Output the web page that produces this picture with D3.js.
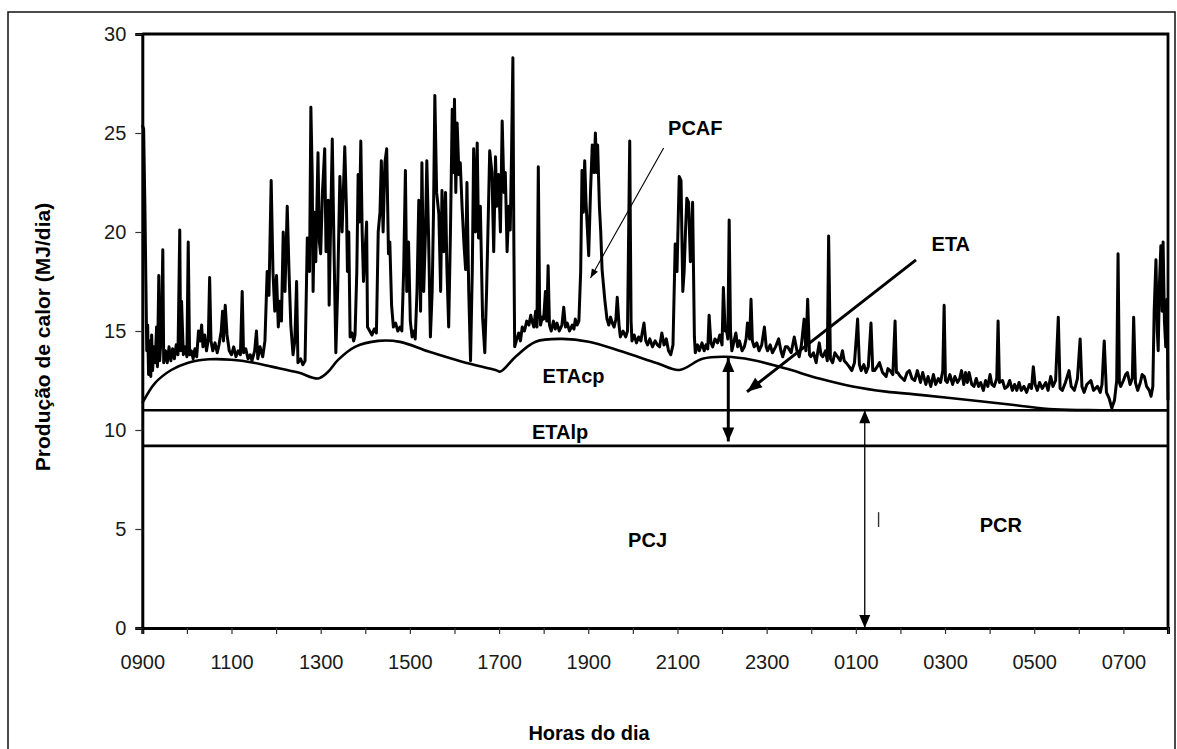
<!DOCTYPE html>
<html>
<head>
<meta charset="utf-8">
<script src="https://cdn.jsdelivr.net/npm/d3@7"></script>
<style>
  body { margin: 0; background: #fff; }
  svg { display: block; font-family: "Liberation Sans", Arial, sans-serif; }
</style>
</head>
<body>
<svg id="chart" width="1177" height="749"></svg>
<script>
/*
** Chart data
*/

// hours after 09:00 on the x axis, 0 .. 23
var hourTicks = d3.range(0, 24);
var xTickLabels = ["0900", "1100", "1300", "1500", "1700", "1900", "2100", "2300", "0100", "0300", "0500", "0700"];
var yTicks = [0, 5, 10, 15, 20, 25, 30];

// PCAF trace : [hour, MJ/dia]
var pcafTrace = [
    [0.00, 25.4], [0.03, 25.2], [0.06, 21.0], [0.08, 17.5], [0.10, 14.0], [0.12, 15.3], [0.14, 12.8], [0.17, 14.5],
    [0.19, 12.7], [0.21, 14.8], [0.23, 13.0], [0.26, 14.2], [0.29, 13.4], [0.32, 15.2], [0.34, 13.2], [0.37, 17.8],
    [0.39, 13.5], [0.43, 15.0], [0.46, 19.1], [0.48, 13.4], [0.52, 14.0], [0.56, 13.4], [0.60, 14.2], [0.64, 13.5],
    [0.68, 14.1], [0.72, 13.6], [0.76, 14.3], [0.80, 13.8], [0.84, 20.1], [0.86, 14.0], [0.88, 16.5], [0.92, 13.8],
    [0.96, 14.2], [1.00, 13.7], [1.03, 19.5], [1.06, 13.8], [1.10, 14.0], [1.14, 13.6], [1.18, 14.1], [1.22, 13.7],
    [1.26, 15.0], [1.30, 14.5], [1.33, 15.3], [1.36, 14.2], [1.40, 14.8], [1.44, 14.0], [1.48, 14.6], [1.51, 17.7],
    [1.54, 14.5], [1.58, 14.0], [1.63, 14.4], [1.68, 13.9], [1.72, 14.3], [1.77, 15.0], [1.80, 16.0], [1.82, 14.5],
    [1.86, 16.3], [1.90, 14.8], [1.95, 14.0], [2.00, 13.8], [2.05, 14.2], [2.10, 13.7], [2.15, 14.0], [2.20, 13.8],
    [2.24, 17.0], [2.27, 13.9], [2.32, 14.1], [2.37, 13.6], [2.42, 13.8], [2.46, 13.5], [2.52, 14.0], [2.56, 15.0],
    [2.59, 13.6], [2.64, 14.2], [2.70, 13.7], [2.75, 14.5], [2.80, 18.0], [2.84, 16.8], [2.89, 22.6], [2.93, 18.0],
    [2.97, 16.0], [3.01, 17.8], [3.05, 15.2], [3.08, 16.5], [3.12, 15.5], [3.16, 20.0], [3.20, 17.0], [3.25, 21.3],
    [3.29, 18.0], [3.33, 15.3], [3.38, 13.8], [3.42, 14.5], [3.46, 17.5], [3.49, 13.4], [3.55, 13.6], [3.60, 13.3],
    [3.65, 13.5], [3.70, 19.7], [3.75, 18.0], [3.78, 26.3], [3.81, 22.9], [3.83, 17.0], [3.86, 21.0], [3.89, 18.5],
    [3.94, 24.0], [3.97, 19.5], [4.00, 18.9], [4.04, 22.0], [4.09, 24.2], [4.12, 19.0], [4.17, 21.6], [4.19, 16.3],
    [4.22, 20.0], [4.26, 24.7], [4.30, 19.0], [4.34, 13.9], [4.38, 17.0], [4.43, 22.8], [4.48, 20.0], [4.54, 24.3],
    [4.58, 21.0], [4.60, 18.0], [4.63, 20.0], [4.66, 14.7], [4.70, 14.9], [4.74, 14.5], [4.77, 14.8], [4.81, 18.0],
    [4.84, 22.9], [4.87, 20.5], [4.90, 24.6], [4.93, 20.0], [4.96, 17.5], [5.03, 20.5], [5.05, 15.2], [5.10, 15.0],
    [5.15, 14.8], [5.20, 15.1], [5.25, 14.9], [5.29, 20.0], [5.33, 21.0], [5.36, 23.6], [5.40, 20.0], [5.44, 23.5],
    [5.48, 24.2], [5.52, 18.9], [5.55, 19.5], [5.59, 16.3], [5.63, 15.2], [5.68, 15.4], [5.73, 15.0], [5.78, 15.2],
    [5.82, 15.0], [5.86, 18.0], [5.90, 23.1], [5.93, 17.0], [5.97, 19.5], [6.01, 15.5], [6.05, 14.7], [6.09, 15.0],
    [6.12, 14.6], [6.16, 17.0], [6.20, 21.6], [6.24, 16.0], [6.27, 23.5], [6.31, 17.0], [6.35, 20.0], [6.38, 23.6],
    [6.42, 19.7], [6.46, 14.7], [6.50, 17.0], [6.53, 21.0], [6.56, 26.9], [6.60, 22.0], [6.65, 20.9], [6.69, 17.0],
    [6.72, 22.1], [6.76, 19.0], [6.80, 22.0], [6.83, 18.2], [6.87, 15.2], [6.91, 20.0], [6.95, 26.2], [6.98, 23.0],
    [7.00, 26.7], [7.03, 22.0], [7.06, 25.5], [7.10, 22.9], [7.13, 23.5], [7.17, 21.3], [7.21, 19.5], [7.25, 18.1],
    [7.28, 22.5], [7.32, 17.0], [7.36, 13.5], [7.40, 18.1], [7.43, 24.2], [7.47, 20.0], [7.51, 24.5], [7.54, 19.7],
    [7.58, 21.3], [7.63, 15.7], [7.68, 13.9], [7.72, 17.0], [7.76, 21.0], [7.79, 24.1], [7.84, 23.0], [7.88, 19.0],
    [7.92, 23.8], [7.95, 21.3], [7.99, 22.9], [8.03, 20.0], [8.07, 25.6], [8.11, 22.0], [8.14, 23.0], [8.18, 19.0],
    [8.22, 21.3], [8.25, 20.1], [8.28, 24.0], [8.31, 28.8], [8.33, 20.0], [8.35, 14.2], [8.40, 14.6], [8.44, 14.9],
    [8.48, 14.5], [8.52, 15.2], [8.57, 15.0], [8.62, 15.5], [8.67, 15.3], [8.71, 15.8], [8.74, 15.5], [8.78, 15.2],
    [8.82, 16.0], [8.85, 15.2], [8.88, 23.3], [8.91, 16.0], [8.93, 15.3], [8.97, 15.7], [9.00, 15.6], [9.04, 17.0],
    [9.07, 15.5], [9.10, 18.3], [9.13, 15.3], [9.17, 15.0], [9.22, 15.5], [9.26, 15.1], [9.30, 15.4], [9.35, 15.0],
    [9.41, 15.3], [9.45, 16.2], [9.49, 15.2], [9.53, 15.4], [9.58, 15.0], [9.64, 15.3], [9.68, 15.1], [9.71, 15.6],
    [9.75, 15.3], [9.79, 15.5], [9.83, 18.0], [9.86, 23.1], [9.89, 21.0], [9.92, 23.6], [9.95, 21.5], [9.97, 20.6],
    [10.01, 18.8], [10.05, 22.0], [10.09, 24.4], [10.13, 23.0], [10.16, 25.0], [10.19, 23.0], [10.21, 24.4], [10.25, 21.3],
    [10.28, 20.0], [10.31, 18.1], [10.37, 16.6], [10.42, 15.6], [10.46, 15.3], [10.50, 15.7], [10.54, 15.4], [10.58, 15.2],
    [10.62, 15.6], [10.65, 16.7], [10.69, 15.3], [10.72, 14.7], [10.78, 15.0], [10.84, 14.7], [10.88, 15.0], [10.93, 24.6],
    [10.96, 15.5], [10.98, 14.5], [11.03, 14.8], [11.08, 14.4], [11.13, 14.7], [11.18, 14.5], [11.21, 14.9], [11.25, 15.4],
    [11.29, 14.5], [11.33, 14.3], [11.38, 14.6], [11.44, 14.2], [11.50, 14.5], [11.55, 14.3], [11.60, 14.2], [11.65, 14.9],
    [11.70, 14.3], [11.75, 14.6], [11.80, 14.0], [11.85, 13.8], [11.90, 14.3], [11.95, 19.4], [11.99, 18.0], [12.04, 22.8],
    [12.08, 22.6], [12.12, 17.0], [12.15, 18.0], [12.18, 20.0], [12.21, 21.7], [12.25, 21.5], [12.29, 18.5], [12.32, 20.0],
    [12.34, 21.5], [12.38, 14.7], [12.40, 13.9], [12.45, 14.3], [12.49, 14.0], [12.55, 14.4], [12.60, 14.0], [12.64, 14.3],
    [12.68, 14.1], [12.71, 15.8], [12.75, 14.4], [12.79, 14.2], [12.84, 14.6], [12.90, 14.4], [12.95, 14.8], [13.00, 14.3],
    [13.03, 17.2], [13.07, 15.0], [13.09, 15.2], [13.13, 14.6], [13.16, 20.6], [13.19, 15.0], [13.22, 14.0], [13.27, 14.5],
    [13.31, 14.9], [13.35, 14.2], [13.39, 14.5], [13.45, 14.0], [13.50, 14.2], [13.54, 14.6], [13.57, 15.4], [13.62, 14.6],
    [13.65, 16.6], [13.68, 14.5], [13.72, 14.2], [13.78, 14.4], [13.83, 14.0], [13.89, 14.3], [13.95, 15.2], [13.99, 14.2],
    [14.02, 14.0], [14.08, 14.3], [14.13, 13.9], [14.20, 14.2], [14.27, 14.6], [14.32, 14.0], [14.36, 13.7], [14.42, 14.2],
    [14.47, 14.2], [14.55, 13.9], [14.62, 14.7], [14.68, 14.0], [14.73, 13.7], [14.78, 14.3], [14.84, 15.6], [14.88, 14.0],
    [14.92, 16.6], [14.96, 13.8], [14.99, 13.7], [15.05, 13.9], [15.11, 13.4], [15.15, 14.0], [15.18, 14.4], [15.22, 13.8],
    [15.26, 13.7], [15.32, 14.0], [15.36, 13.5], [15.39, 19.8], [15.43, 13.6], [15.48, 13.4], [15.53, 13.9], [15.59, 13.7],
    [15.65, 13.5], [15.70, 14.0], [15.74, 13.5], [15.78, 13.4], [15.85, 13.2], [15.91, 13.0], [15.97, 13.4], [16.04, 15.6],
    [16.08, 13.3], [16.12, 13.0], [16.18, 13.3], [16.23, 12.9], [16.28, 13.2], [16.34, 15.4], [16.38, 13.0], [16.42, 13.0],
    [16.48, 13.2], [16.53, 13.4], [16.60, 12.9], [16.68, 12.7], [16.72, 13.1], [16.77, 13.0], [16.83, 12.8], [16.88, 15.5],
    [16.91, 12.9], [16.94, 12.9], [17.00, 12.7], [17.09, 12.5], [17.15, 12.9], [17.20, 13.0], [17.26, 12.6], [17.32, 12.5],
    [17.38, 13.0], [17.45, 12.4], [17.50, 12.9], [17.57, 12.3], [17.62, 12.7], [17.68, 12.2], [17.74, 12.8], [17.79, 12.3],
    [17.85, 12.6], [17.90, 12.4], [17.95, 13.0], [17.98, 16.3], [18.01, 12.5], [18.05, 12.4], [18.11, 12.8], [18.17, 12.3],
    [18.22, 12.7], [18.28, 12.4], [18.33, 12.6], [18.37, 13.0], [18.42, 12.3], [18.46, 12.9], [18.50, 12.4], [18.54, 12.9],
    [18.60, 12.3], [18.65, 12.2], [18.70, 12.6], [18.75, 12.2], [18.80, 12.4], [18.86, 12.0], [18.91, 12.5], [18.96, 12.2],
    [19.01, 12.8], [19.05, 12.3], [19.10, 12.2], [19.16, 12.6], [19.19, 15.5], [19.22, 12.4], [19.29, 12.5], [19.34, 12.1],
    [19.40, 12.2], [19.45, 12.5], [19.51, 12.0], [19.56, 12.3], [19.61, 12.0], [19.66, 12.4], [19.71, 12.0], [19.77, 12.2],
    [19.83, 11.9], [19.89, 12.3], [19.94, 12.1], [19.98, 13.2], [20.02, 12.3], [20.07, 12.0], [20.12, 12.4], [20.18, 12.1],
    [20.26, 12.4], [20.31, 12.0], [20.37, 12.7], [20.42, 12.2], [20.48, 12.5], [20.54, 15.7], [20.58, 12.1], [20.63, 12.0],
    [20.70, 12.4], [20.78, 13.0], [20.83, 12.2], [20.90, 12.0], [20.97, 12.6], [21.03, 14.6], [21.07, 12.2], [21.12, 11.9],
    [21.18, 12.3], [21.27, 12.5], [21.33, 12.0], [21.42, 12.2], [21.48, 11.9], [21.52, 12.3], [21.57, 14.5], [21.62, 11.9],
    [21.68, 11.6], [21.74, 11.1], [21.80, 11.5], [21.85, 12.5], [21.88, 18.9], [21.91, 12.4], [21.94, 12.2], [22.00, 12.5],
    [22.05, 12.8], [22.09, 12.9], [22.15, 12.3], [22.20, 12.6], [22.23, 15.7], [22.27, 12.4], [22.32, 12.0], [22.38, 12.4],
    [22.42, 12.8], [22.47, 12.7], [22.52, 12.2], [22.58, 12.0], [22.62, 11.7], [22.66, 12.2], [22.69, 16.0], [22.73, 18.6],
    [22.76, 15.0], [22.78, 14.0], [22.81, 17.5], [22.84, 19.3], [22.87, 16.0], [22.89, 19.5], [22.92, 15.5], [22.95, 14.2],
    [22.98, 16.6], [23.00, 11.5]
];

// smooth envelope (top of ETAcp) : [hour, MJ/dia]
var etacpCurve = [
    [0, 11.35], [0.28, 12.36], [0.65, 13.03], [1.03, 13.4], [1.5, 13.57], [2.0, 13.55], [2.5, 13.4], [2.9, 13.2],
    [3.5, 12.9], [3.94, 12.6], [4.15, 12.9], [4.39, 13.54], [4.77, 14.2], [5.29, 14.5], [5.78, 14.45], [6.42, 13.96],
    [7.17, 13.45], [7.92, 13.03], [8.03, 12.95], [8.37, 13.7], [8.82, 14.46], [9.41, 14.6], [10.01, 14.46], [10.76, 13.96],
    [11.55, 13.37], [12.04, 13.03], [12.56, 13.6], [13.09, 13.7], [13.68, 13.54], [14.43, 13.1], [15.18, 12.6], [15.93, 12.2],
    [16.68, 11.94], [17.32, 11.8], [18.06, 11.63], [19.55, 11.26], [20.45, 11.04], [21.5, 11.0], [23, 11.0]
];

// horizontal levels
var etalpTop = 11.0;
var pcjTop = 9.2;

// text labels : [name, hour, value at baseline]
var regionLabels = [
    ["PCAF", 12.4, 24.9],
    ["ETA", 18.13, 19.05],
    ["ETAcp", 9.67, 12.35],
    ["ETAlp", 9.37, 9.55],
    ["PCJ", 11.33, 4.1],
    ["PCR", 19.25, 4.85]
];

// arrows : [hour1, value1, hour2, value2]
var pcafArrow = [11.69, 24.24, 10.05, 17.68];
var etaArrow = [17.35, 18.59, 13.56, 11.93];
var etaSpan = [13.14, 13.64, 13.14, 9.42];
var pcrSpan = [16.2, 11.0, 16.2, 0.0];

/*
** Scales
*/

var svg = d3.select('#chart');
var x = d3.scaleLinear().domain([0, 23]).range([142.3, 1168]);
var y = d3.scaleLinear().domain([0, 30]).range([628, 34]);

// outer frame
svg.append('rect')
    .attr('x', 8).attr('y', 12)
    .attr('width', 1167).attr('height', 760)
    .attr('fill', 'none')
    .attr('stroke', '#111')
    .attr('stroke-width', 1.5);

// plot box (top and right edges)
svg.append('path')
    .attr('d', 'M' + x(0) + ',' + y(30) + 'H' + x(23) + 'V' + y(0))
    .attr('fill', 'none')
    .attr('stroke', '#000')
    .attr('stroke-width', 2.8);

/*
** Axes
*/

var xAxis = d3.axisBottom(x)
    .tickValues(hourTicks)
    .tickSize(6)
    .tickPadding(21)
    .tickFormat(function (d) { return d % 2 === 0 ? xTickLabels[d / 2] : ''; });

var gx = svg.append('g')
    .attr('transform', 'translate(0,' + y(0) + ')')
    .call(xAxis);

var yAxis = d3.axisLeft(y)
    .tickValues(yTicks)
    .tickSize(7)
    .tickPadding(9);

var gy = svg.append('g')
    .attr('transform', 'translate(' + x(0) + ',0)')
    .call(yAxis);

[gx, gy].forEach(function (g) {
    g.select('.domain').attr('stroke', '#000').attr('stroke-width', 3);
    g.selectAll('.tick line').attr('stroke', '#333').attr('stroke-width', 1.2);
    g.selectAll('.tick text')
        .attr('fill', '#1a1a1a')
        .style('font-size', '20px')
        .style('font-family', '"Liberation Sans", Arial, sans-serif');
});

svg.append('text')
    .attr('x', 589).attr('y', 740)
    .attr('text-anchor', 'middle')
    .style('font-size', '20px')
    .style('font-weight', 'bold')
    .text('Horas do dia');

svg.append('text')
    .attr('transform', 'translate(50,337) rotate(-90)')
    .attr('text-anchor', 'middle')
    .style('font-size', '21px')
    .style('font-weight', 'bold')
    .text('Produção de calor (MJ/dia)');

/*
** Level lines and curves
*/

[etalpTop, pcjTop].forEach(function (v) {
    svg.append('line')
        .attr('x1', x(0)).attr('x2', x(23))
        .attr('y1', y(v)).attr('y2', y(v))
        .attr('stroke', '#000')
        .attr('stroke-width', 2.6);
});

var curveLine = d3.line()
    .x(function (d) { return x(d[0]); })
    .y(function (d) { return y(d[1]); })
    .curve(d3.curveCatmullRom.alpha(0.5));

svg.append('path')
    .datum(etacpCurve)
    .attr('d', curveLine)
    .attr('fill', 'none')
    .attr('stroke', '#000')
    .attr('stroke-width', 2.6);

var traceLine = d3.line()
    .x(function (d) { return x(d[0]); })
    .y(function (d) { return y(d[1]); });

svg.append('path')
    .datum(pcafTrace)
    .attr('d', traceLine)
    .attr('fill', 'none')
    .attr('stroke', '#000')
    .attr('stroke-width', 3)
    .attr('stroke-linejoin', 'round');

/*
** Arrows
*/

function arrowHead(x1, y1, x2, y2, len, half) {
    var a = Math.atan2(y2 - y1, x2 - x1);
    var bx = x2 - len * Math.cos(a), by = y2 - len * Math.sin(a);
    var px = -Math.sin(a) * half, py = Math.cos(a) * half;
    return 'M' + x2 + ',' + y2 + 'L' + (bx + px) + ',' + (by + py) + 'L' + (bx - px) + ',' + (by - py) + 'Z';
}

function drawArrow(a, width, len, half, both) {
    var x1 = x(a[0]), y1 = y(a[1]), x2 = x(a[2]), y2 = y(a[3]);
    svg.append('line')
        .attr('x1', x1).attr('y1', y1).attr('x2', x2).attr('y2', y2)
        .attr('stroke', '#000')
        .attr('stroke-width', width);
    svg.append('path').attr('d', arrowHead(x1, y1, x2, y2, len, half)).attr('fill', '#000');
    if (both) {
        svg.append('path').attr('d', arrowHead(x2, y2, x1, y1, len, half)).attr('fill', '#000');
    }
}

drawArrow(pcafArrow, 1.1, 9, 3.5, false);
drawArrow(etaArrow, 3, 15, 6, false);
drawArrow(etaSpan, 3, 14, 6, true);
drawArrow(pcrSpan, 1.3, 13, 5.5, true);

// small stray marks from the scan
svg.append('line')
    .attr('x1', x(16.51)).attr('x2', x(16.51))
    .attr('y1', y(5.85)).attr('y2', y(5.1))
    .attr('stroke', '#333').attr('stroke-width', 1.4);

/*
** Labels
*/

svg.selectAll('.region-label')
    .data(regionLabels)
    .enter().append('text')
    .attr('class', 'region-label')
    .attr('x', function (d) { return x(d[1]); })
    .attr('y', function (d) { return y(d[2]); })
    .attr('text-anchor', 'middle')
    .style('font-size', '20px')
    .style('font-weight', 'bold')
    .text(function (d) { return d[0]; });
</script>
</body>
</html>
